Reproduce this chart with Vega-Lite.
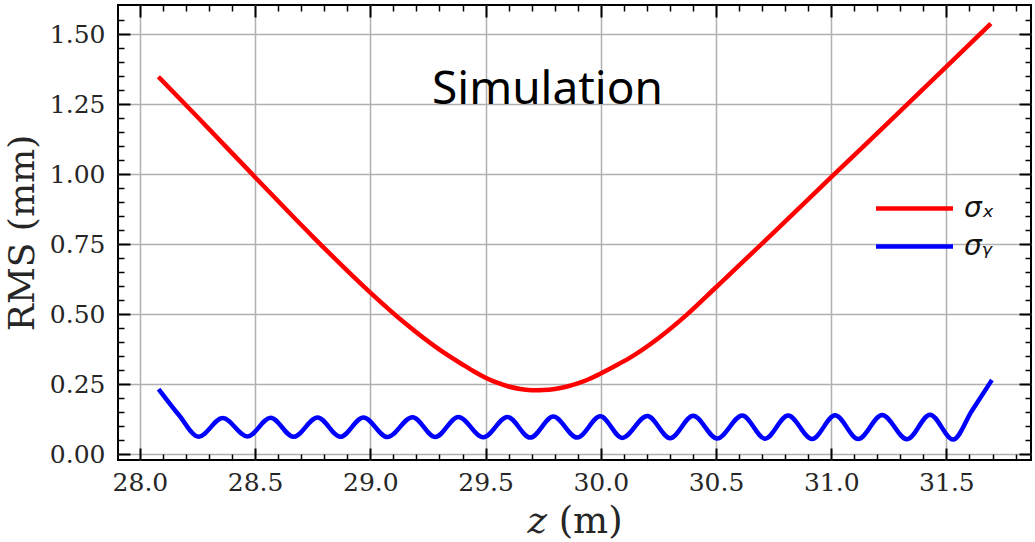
{
  "$schema": "https://vega.github.io/schema/vega-lite/v6.json",
  "width": 913,
  "height": 455,
  "autosize": "none",
  "padding": {"left": 118, "top": 5, "right": 4, "bottom": 82},
  "background": "white",
  "title": {"text": "Simulation", "font": "Noto Sans", "fontSize": 46, "fontWeight": "normal", "color": "black", "anchor": "middle", "baseline": "alphabetic", "offset": -146, "dx": -27, "frame": "group"},
  "config": {"view": {"stroke": "black", "strokeWidth": 2}},
  "datasets": {
    "curves": [
      {"z": 28.087, "rms": 1.343, "series": "σₓ"},
      {"z": 28.25, "rms": 1.205, "series": "σₓ"},
      {"z": 28.5, "rms": 0.99, "series": "σₓ"},
      {"z": 28.75, "rms": 0.778, "series": "σₓ"},
      {"z": 29.0, "rms": 0.578, "series": "σₓ"},
      {"z": 29.15, "rms": 0.469, "series": "σₓ"},
      {"z": 29.3, "rms": 0.374, "series": "σₓ"},
      {"z": 29.4, "rms": 0.321, "series": "σₓ"},
      {"z": 29.45, "rms": 0.296, "series": "σₓ"},
      {"z": 29.5, "rms": 0.274, "series": "σₓ"},
      {"z": 29.55, "rms": 0.256, "series": "σₓ"},
      {"z": 29.6, "rms": 0.2426, "series": "σₓ"},
      {"z": 29.65, "rms": 0.2338, "series": "σₓ"},
      {"z": 29.7, "rms": 0.2295, "series": "σₓ"},
      {"z": 29.723, "rms": 0.229, "series": "σₓ"},
      {"z": 29.75, "rms": 0.2296, "series": "σₓ"},
      {"z": 29.8, "rms": 0.2336, "series": "σₓ"},
      {"z": 29.85, "rms": 0.2416, "series": "σₓ"},
      {"z": 29.9, "rms": 0.2534, "series": "σₓ"},
      {"z": 29.95, "rms": 0.2692, "series": "σₓ"},
      {"z": 30.0, "rms": 0.289, "series": "σₓ"},
      {"z": 30.06, "rms": 0.315, "series": "σₓ"},
      {"z": 30.12, "rms": 0.342, "series": "σₓ"},
      {"z": 30.25, "rms": 0.415, "series": "σₓ"},
      {"z": 30.375, "rms": 0.5, "series": "σₓ"},
      {"z": 30.5, "rms": 0.597, "series": "σₓ"},
      {"z": 30.75, "rms": 0.792, "series": "σₓ"},
      {"z": 31.0, "rms": 0.99, "series": "σₓ"},
      {"z": 31.25, "rms": 1.187, "series": "σₓ"},
      {"z": 31.5, "rms": 1.385, "series": "σₓ"},
      {"z": 31.686, "rms": 1.533, "series": "σₓ"},
      {"z": 28.087, "rms": 0.227, "series": "σᵧ"},
      {"z": 28.17, "rms": 0.14, "series": "σᵧ"},
      {"z": 28.255, "rms": 0.063, "series": "σᵧ"},
      {"z": 28.359, "rms": 0.13, "series": "σᵧ"},
      {"z": 28.467, "rms": 0.064, "series": "σᵧ"},
      {"z": 28.567, "rms": 0.131, "series": "σᵧ"},
      {"z": 28.667, "rms": 0.063, "series": "σᵧ"},
      {"z": 28.771, "rms": 0.132, "series": "σᵧ"},
      {"z": 28.87, "rms": 0.063, "series": "σᵧ"},
      {"z": 28.97, "rms": 0.132, "series": "σᵧ"},
      {"z": 29.074, "rms": 0.062, "series": "σᵧ"},
      {"z": 29.183, "rms": 0.133, "series": "σᵧ"},
      {"z": 29.282, "rms": 0.062, "series": "σᵧ"},
      {"z": 29.382, "rms": 0.134, "series": "σᵧ"},
      {"z": 29.49, "rms": 0.061, "series": "σᵧ"},
      {"z": 29.595, "rms": 0.134, "series": "σᵧ"},
      {"z": 29.694, "rms": 0.06, "series": "σᵧ"},
      {"z": 29.794, "rms": 0.135, "series": "σᵧ"},
      {"z": 29.898, "rms": 0.06, "series": "σᵧ"},
      {"z": 29.998, "rms": 0.136, "series": "σᵧ"},
      {"z": 30.093, "rms": 0.059, "series": "σᵧ"},
      {"z": 30.202, "rms": 0.137, "series": "σᵧ"},
      {"z": 30.301, "rms": 0.058, "series": "σᵧ"},
      {"z": 30.401, "rms": 0.138, "series": "σᵧ"},
      {"z": 30.505, "rms": 0.057, "series": "σᵧ"},
      {"z": 30.614, "rms": 0.139, "series": "σᵧ"},
      {"z": 30.713, "rms": 0.056, "series": "σᵧ"},
      {"z": 30.813, "rms": 0.139, "series": "σᵧ"},
      {"z": 30.917, "rms": 0.055, "series": "σᵧ"},
      {"z": 31.017, "rms": 0.14, "series": "σᵧ"},
      {"z": 31.117, "rms": 0.055, "series": "σᵧ"},
      {"z": 31.221, "rms": 0.141, "series": "σᵧ"},
      {"z": 31.329, "rms": 0.054, "series": "σᵧ"},
      {"z": 31.429, "rms": 0.142, "series": "σᵧ"},
      {"z": 31.529, "rms": 0.053, "series": "σᵧ"},
      {"z": 31.61, "rms": 0.155, "series": "σᵧ"},
      {"z": 31.692, "rms": 0.259, "series": "σᵧ"}
    ]
  },
  "data": {"name": "curves"},
  "resolve": {"axis": {"x": "independent", "y": "independent"}},
  "layer": [
    {
      "mark": {"type": "line", "strokeWidth": 4.5, "interpolate": "monotone", "strokeCap": "square"},
      "encoding": {
        "x": {"field": "z", "type": "quantitative",
          "scale": {"domain": [27.905, 31.867], "nice": false, "zero": false},
          "axis": {"orient": "bottom", "values": [28, 28.5, 29, 29.5, 30, 30.5, 31, 31.5], "format": ".1f", "ticks": false, "domain": false,
            "grid": true, "gridColor": "#b0b0b0", "gridWidth": 1.5,
            "labelFont": "DejaVu Serif", "labelFontSize": 25, "labelColor": "#262626", "labelPadding": 10,
            "title": "𝑧 (m)", "titleFont": "DejaVu Serif", "titleFontSize": 37, "titleFontWeight": "normal", "titleColor": "#262626", "titlePadding": 8}},
        "y": {"field": "rms", "type": "quantitative",
          "scale": {"domain": [-0.02, 1.605], "nice": false, "zero": false},
          "axis": {"orient": "left", "values": [0, 0.25, 0.5, 0.75, 1, 1.25, 1.5], "format": ".2f", "ticks": false, "domain": false,
            "grid": true, "gridColor": "#b0b0b0", "gridWidth": 1.5,
            "labelFont": "DejaVu Serif", "labelFontSize": 25, "labelColor": "#262626", "labelPadding": 13,
            "title": "RMS (mm)", "titleFont": "DejaVu Serif", "titleFontSize": 36, "titleFontWeight": "normal", "titleColor": "#262626", "titlePadding": 8}},
        "color": {"field": "series", "type": "nominal",
          "scale": {"domain": ["σₓ", "σᵧ"], "range": ["#ff0000", "#0000ff"]},
          "legend": {"orient": "none", "legendX": 775, "legendY": 182, "title": null, "padding": 0,
            "symbolType": "M-2,0H2", "symbolSize": 1482, "symbolStrokeWidth": 4.5, "symbolOpacity": 1,
            "labelFont": "DejaVu Sans", "labelFontStyle": "italic", "labelFontSize": 28, "labelColor": "#111111", "labelOffset": 28, "rowPadding": 2}}
      }
    },
    {
      "mark": {"type": "line", "opacity": 0},
      "encoding": {
        "x": {"field": "z", "type": "quantitative", "scale": {"domain": [27.905, 31.867], "nice": false, "zero": false},
          "axis": {"orient": "bottom", "values": [28, 28.5, 29, 29.5, 30, 30.5, 31, 31.5], "labels": false, "domain": false, "grid": false, "ticks": true, "tickSize": -12, "tickWidth": 2, "tickColor": "black", "title": null}},
        "y": {"field": "rms", "type": "quantitative", "scale": {"domain": [-0.02, 1.605], "nice": false, "zero": false},
          "axis": {"orient": "left", "values": [0, 0.25, 0.5, 0.75, 1, 1.25, 1.5], "labels": false, "domain": false, "grid": false, "ticks": true, "tickSize": -12, "tickWidth": 2, "tickColor": "black", "title": null}}
      }
    },
    {
      "mark": {"type": "line", "opacity": 0},
      "encoding": {
        "x": {"field": "z", "type": "quantitative", "scale": {"domain": [27.905, 31.867], "nice": false, "zero": false},
          "axis": {"orient": "bottom", "values": [28.1, 28.2, 28.3, 28.4, 28.6, 28.7, 28.8, 28.9, 29.1, 29.2, 29.3, 29.4, 29.6, 29.7, 29.8, 29.9, 30.1, 30.2, 30.3, 30.4, 30.6, 30.7, 30.8, 30.9, 31.1, 31.2, 31.3, 31.4, 31.6, 31.7, 31.8], "labels": false, "domain": false, "grid": false, "ticks": true, "tickSize": -6, "tickWidth": 1.5, "tickColor": "black", "title": null}},
        "y": {"field": "rms", "type": "quantitative", "scale": {"domain": [-0.02, 1.605], "nice": false, "zero": false},
          "axis": {"orient": "left", "values": [0.05, 0.1, 0.15, 0.2, 0.3, 0.35, 0.4, 0.45, 0.55, 0.6, 0.65, 0.7, 0.8, 0.85, 0.9, 0.95, 1.05, 1.1, 1.15, 1.2, 1.3, 1.35, 1.4, 1.45, 1.55], "labels": false, "domain": false, "grid": false, "ticks": true, "tickSize": -6, "tickWidth": 1.5, "tickColor": "black", "title": null}}
      }
    },
    {
      "mark": {"type": "line", "opacity": 0},
      "encoding": {
        "x": {"field": "z", "type": "quantitative", "scale": {"domain": [27.905, 31.867], "nice": false, "zero": false},
          "axis": {"orient": "top", "values": [28, 28.5, 29, 29.5, 30, 30.5, 31, 31.5], "labels": false, "domain": false, "grid": false, "ticks": true, "tickSize": -12, "tickWidth": 2, "tickColor": "black", "title": null}},
        "y": {"field": "rms", "type": "quantitative", "scale": {"domain": [-0.02, 1.605], "nice": false, "zero": false},
          "axis": {"orient": "right", "values": [0, 0.25, 0.5, 0.75, 1, 1.25, 1.5], "labels": false, "domain": false, "grid": false, "ticks": true, "tickSize": -12, "tickWidth": 2, "tickColor": "black", "title": null}}
      }
    },
    {
      "mark": {"type": "line", "opacity": 0},
      "encoding": {
        "x": {"field": "z", "type": "quantitative", "scale": {"domain": [27.905, 31.867], "nice": false, "zero": false},
          "axis": {"orient": "top", "values": [28.1, 28.2, 28.3, 28.4, 28.6, 28.7, 28.8, 28.9, 29.1, 29.2, 29.3, 29.4, 29.6, 29.7, 29.8, 29.9, 30.1, 30.2, 30.3, 30.4, 30.6, 30.7, 30.8, 30.9, 31.1, 31.2, 31.3, 31.4, 31.6, 31.7, 31.8], "labels": false, "domain": false, "grid": false, "ticks": true, "tickSize": -6, "tickWidth": 1.5, "tickColor": "black", "title": null}},
        "y": {"field": "rms", "type": "quantitative", "scale": {"domain": [-0.02, 1.605], "nice": false, "zero": false},
          "axis": {"orient": "right", "values": [0.05, 0.1, 0.15, 0.2, 0.3, 0.35, 0.4, 0.45, 0.55, 0.6, 0.65, 0.7, 0.8, 0.85, 0.9, 0.95, 1.05, 1.1, 1.15, 1.2, 1.3, 1.35, 1.4, 1.45, 1.55], "labels": false, "domain": false, "grid": false, "ticks": true, "tickSize": -6, "tickWidth": 1.5, "tickColor": "black", "title": null}}
      }
    }
  ]
}
